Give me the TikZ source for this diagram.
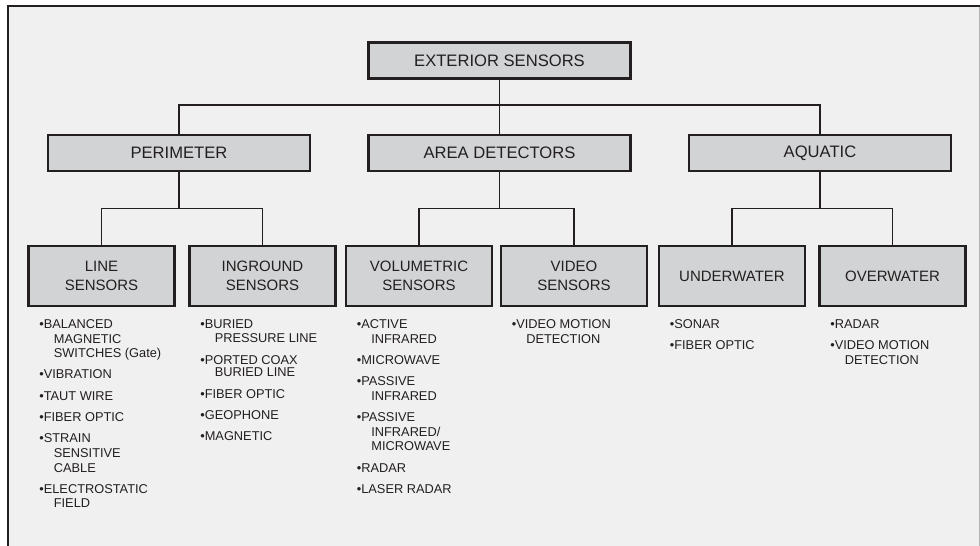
\documentclass[tikz,border=0pt]{standalone}
\usepackage{fontspec}
\setmainfont{Liberation Sans}
\usetikzlibrary{positioning}

\definecolor{boxgray}{HTML}{D1D3D4}
\definecolor{bggray}{HTML}{F0F0F0}
\definecolor{inkdark}{HTML}{231F20}

\newcommand{\subind}{\hspace*{14.5pt}}
\newcommand{\itemgap}{6.7pt}

\begin{document}
\begin{tikzpicture}[
        topbox/.style={draw=inkdark, fill=boxgray, line width=2.7pt,
            minimum width=262pt, minimum height=36pt, inner sep=0pt,
            text=inkdark, font=\fontsize{16.6}{19}\selectfont},
        subbox/.style={draw=inkdark, fill=boxgray, line width=2.7pt,
            minimum width=146pt, minimum height=60pt, inner sep=0pt,
            align=center, text=inkdark, font=\fontsize{15}{19}\selectfont},
        list/.style={anchor=north west, inner sep=0pt, align=left,
            text=inkdark, font=\fontsize{12.8}{14.6}\selectfont},
        level 1/.style={sibling distance=320.5pt, level distance=92.5pt,
            edge from parent path={(\tikzparentnode.south) -- ++(0,-25pt)
                -| (\tikzchildnode.north)}},
        level 2/.style={sibling distance=158pt, level distance=123pt,
            edge from parent path={(\tikzparentnode.south) -- ++(0,-36pt)
                -| (\tikzchildnode.north)}},
        edge from parent/.style={draw=inkdark, line width=1.6pt},
        grow=down,
    ]
    \useasboundingbox (0pt,0pt) rectangle (980pt,-546pt);
    % frame
    \fill[bggray] (8pt,-6pt) rectangle (980pt,-546pt);
    \draw[gray!60, line width=1.3pt] (979.3pt,-6pt) -- (979.3pt,-546pt);
    \draw[inkdark, line width=2pt] (8pt,-546pt) -- (8pt,-6pt) -- (980pt,-6pt);

    \node[topbox] (ext) at (499.5pt,-60.5pt) {EXTERIOR SENSORS}
        child { node[topbox] (per) {PERIMETER}
            child[xshift=1.5pt] { node[subbox] (line) {LINE\\SENSORS} }
            child[xshift=4.5pt] { node[subbox] (ingr) {INGROUND\\SENSORS} }
        }
        child { node[topbox] (area) {AREA DETECTORS}
            child[xshift=-1.5pt] { node[subbox] (vol) {VOLUMETRIC\\SENSORS} }
            child[xshift=-4.5pt] { node[subbox] (vid) {VIDEO\\SENSORS} }
        }
        child { node[topbox] (aqua) {AQUATIC}
            child[xshift=-9pt] { node[subbox] (under) {UNDERWATER} }
            child[xshift=-6.5pt] { node[subbox] (over) {OVERWATER} }
        };

    % sensor lists
    \node[list, below right=12pt and 12pt of line.south west] (linelist)
        {\textbullet BALANCED\\\subind MAGNETIC\\\subind SWITCHES (Gate)\\[\itemgap]
         \textbullet VIBRATION\\[\itemgap]
         \textbullet TAUT WIRE\\[\itemgap]
         \textbullet FIBER OPTIC\\[\itemgap]
         \textbullet STRAIN\\\subind SENSITIVE\\\subind CABLE\\[\itemgap]
         \textbullet ELECTROSTATIC\\\subind FIELD};
    \node[list, below right=12pt and 12pt of ingr.south west] (ingrlist)
        {\textbullet BURIED\\\subind PRESSURE LINE\\[\itemgap]
         \textbullet PORTED COAX\\[-2pt]\subind BURIED LINE\\[\itemgap]
         \textbullet FIBER OPTIC\\[\itemgap]
         \textbullet GEOPHONE\\[\itemgap]
         \textbullet MAGNETIC};
    \node[list, below right=12pt and 12pt of vol.south west] (vollist)
        {\textbullet ACTIVE\\\subind INFRARED\\[\itemgap]
         \textbullet MICROWAVE\\[\itemgap]
         \textbullet PASSIVE\\\subind INFRARED\\[\itemgap]
         \textbullet PASSIVE\\\subind INFRARED/\\\subind MICROWAVE\\[\itemgap]
         \textbullet RADAR\\[\itemgap]
         \textbullet LASER RADAR};
    \node[list, below right=12pt and 12pt of vid.south west] (vidlist)
        {\textbullet VIDEO MOTION\\\subind DETECTION};
    \node[list, below right=12pt and 12pt of under.south west] (underlist)
        {\textbullet SONAR\\[\itemgap]
         \textbullet FIBER OPTIC};
    \node[list, below right=12pt and 12pt of over.south west] (overlist)
        {\textbullet RADAR\\[\itemgap]
         \textbullet VIDEO MOTION\\\subind DETECTION};
\end{tikzpicture}
\end{document}
